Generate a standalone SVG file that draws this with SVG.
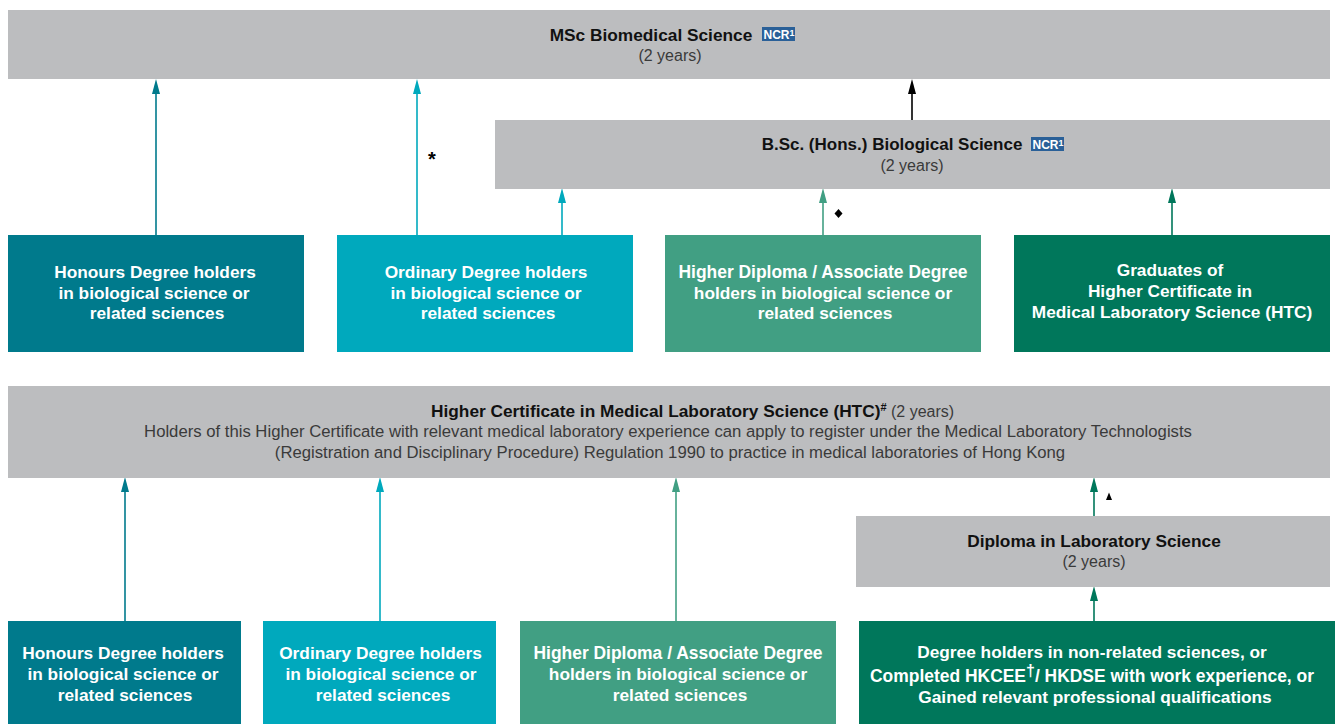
<svg xmlns="http://www.w3.org/2000/svg" width="1335" height="724" viewBox="0 0 1335 724">
<style>
text{font-family:"Liberation Sans",Arial,sans-serif;text-anchor:middle}
.b{font-size:17.3px;font-weight:700;fill:#111}
.r{font-size:16.7px;fill:#3a3a3a}
.y{font-size:16px;fill:#3a3a3a}
.w{font-size:17.3px;font-weight:700;fill:#fff}
.g{fill:#bcbdbf}.t{fill:#007a8c}.c{fill:#00a9bd}.l{fill:#419f83}.d{fill:#00775b}
.badge{fill:#2a6098}
.bt{font-size:12px;font-weight:700;fill:#fff;text-anchor:start}
.sup{font-size:9px;font-weight:700}
path{fill:none;stroke-width:1.6}
</style>
<g id="connectors">
<path d="M156 236V93" stroke="#007a8c"/><polygon points="156,79 152,94 160,94" fill="#007a8c"/>
<path d="M417 236V93" stroke="#00a9bd"/><polygon points="417,79 413,94 421,94" fill="#00a9bd"/>
<path d="M912 121V93" stroke="#000"/><polygon points="912,79 908,94 916,94" fill="#000"/>
<path d="M562 236V202" stroke="#00a9bd"/><polygon points="562,188 558,203 566,203" fill="#00a9bd"/>
<path d="M823 236V202" stroke="#419f83"/><polygon points="823,188 819,203 827,203" fill="#419f83"/>
<path d="M1172 236V202" stroke="#00775b"/><polygon points="1172,188 1168,203 1176,203" fill="#00775b"/>
<path d="M125 622V491" stroke="#007a8c"/><polygon points="125,477 121,492 129,492" fill="#007a8c"/>
<path d="M380 622V491" stroke="#00a9bd"/><polygon points="380,477 376,492 384,492" fill="#00a9bd"/>
<path d="M676 622V491" stroke="#419f83"/><polygon points="676,477 672,492 680,492" fill="#419f83"/>
<path d="M1094 516V491" stroke="#00775b"/><polygon points="1094,477 1090,492 1098,492" fill="#00775b"/>
<path d="M1094 622V600" stroke="#00775b"/><polygon points="1094,586 1090,601 1098,601" fill="#00775b"/>
</g>
<g id="msc"><rect class="g" x="8" y="10" width="1322" height="69"/>
<text class="b" x="651" y="41">MSc Biomedical Science</text><text class="y" x="670" y="61">(2 years)</text>
<rect class="badge" x="762" y="27" width="33" height="14"/><text class="bt" x="763.500" y="38.500">NCR<tspan class="sup" dy="-3">1</tspan></text></g>
<g id="bsc"><rect class="g" x="495" y="120" width="835" height="69"/>
<text class="b" x="892" y="150" style="font-size:17px">B.Sc. (Hons.) Biological Science</text><text class="y" x="912" y="171">(2 years)</text>
<rect class="badge" x="1031" y="137" width="33" height="14"/><text class="bt" x="1032.500" y="148.500">NCR<tspan class="sup" dy="-3">1</tspan></text></g>
<g id="n1"><rect class="t" x="8" y="235" width="296" height="117"/>
<text class="w" x="155" y="278">Honours Degree holders</text><text class="w" x="154" y="299">in biological science or</text><text class="w" x="157" y="319">related sciences</text></g>
<g id="n2"><rect class="c" x="337" y="235" width="296" height="117"/>
<text class="w" x="486" y="278">Ordinary Degree holders</text><text class="w" x="486" y="299">in biological science or</text><text class="w" x="488" y="319">related sciences</text></g>
<g id="n3"><rect class="l" x="665" y="235" width="316" height="117"/>
<text class="w" x="823" y="278" style="font-size:17.45px">Higher Diploma / Associate Degree</text><text class="w" x="823" y="299">holders in biological science or</text><text class="w" x="825" y="319">related sciences</text></g>
<g id="n4"><rect class="d" x="1014" y="235" width="316" height="117"/>
<text class="w" x="1170" y="276">Graduates of</text><text class="w" x="1170" y="297">Higher Certificate in</text><text class="w" x="1172" y="318">Medical Laboratory Science (HTC)</text></g>
<text x="432" y="166" style="font-size:20px;font-weight:700;fill:#000">*</text>
<polygon points="838.500,209 842.500,213.500 838.500,218 834.500,213.500" fill="#000"/>
<polygon points="1109,492.500 1112,500 1106,500" fill="#000"/>
<g id="htc"><rect class="g" x="8" y="386" width="1322" height="92"/>
<text class="b" x="431" y="417" style="text-anchor:start">Higher Certificate in Medical Laboratory Science (HTC)<tspan font-size="11" dy="-6">#</tspan><tspan dy="6" style="font-size:16px;font-weight:400;fill:#3a3a3a"> (2 years)</tspan></text>
<text class="r" x="668" y="437">Holders of this Higher Certificate with relevant medical laboratory experience can apply to register under the Medical Laboratory Technologists</text>
<text class="r" x="670" y="458">(Registration and Disciplinary Procedure) Regulation 1990 to practice in medical laboratories of Hong Kong</text></g>
<g id="dls"><rect class="g" x="856" y="516" width="474" height="71"/>
<text class="b" x="1094" y="547">Diploma in Laboratory Science</text><text class="y" x="1094" y="567">(2 years)</text></g>
<g id="m1"><rect class="t" x="8" y="621" width="233" height="103"/>
<text class="w" x="123" y="659">Honours Degree holders</text><text class="w" x="123" y="680">in biological science or</text><text class="w" x="125" y="701">related sciences</text></g>
<g id="m2"><rect class="c" x="263" y="621" width="233" height="103"/>
<text class="w" x="380.500" y="659">Ordinary Degree holders</text><text class="w" x="381" y="680">in biological science or</text><text class="w" x="383" y="701">related sciences</text></g>
<g id="m3"><rect class="l" x="520" y="621" width="316" height="103"/>
<text class="w" x="678" y="659" style="font-size:17.45px">Higher Diploma / Associate Degree</text><text class="w" x="678" y="680">holders in biological science or</text><text class="w" x="680" y="701">related sciences</text></g>
<g id="m4"><rect class="d" x="859" y="621" width="476" height="103"/>
<text class="w" x="1092" y="658">Degree holders in non-related sciences, or</text>
<text class="w" x="1092" y="682" style="font-size:17.45px">Completed HKCEE<tspan font-size="16" dy="-6">†</tspan><tspan dy="6">/ HKDSE with work experience, or</tspan></text>
<text class="w" x="1095" y="703">Gained relevant professional qualifications</text></g>
</svg>
